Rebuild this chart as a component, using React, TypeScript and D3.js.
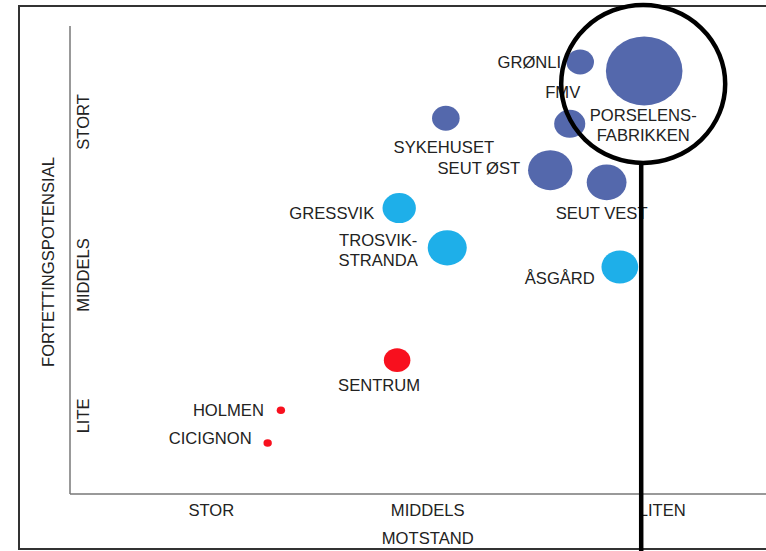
import * as d3 from "d3";

// motstand (x) and fortettingspotensial (y) on a 0-10 score, size = relative weight
const names = [
  "PORSELENS-|FABRIKKEN",
  "GRØNLI",
  "FMV",
  "SEUT ØST",
  "SEUT VEST",
  "SYKEHUSET",
  "GRESSVIK",
  "TROSVIK-|STRANDA",
  "ÅSGÅRD",
  "SENTRUM",
  "HOLMEN",
  "CICIGNON",
];
const motstand = [8.25, 7.33, 7.18, 6.9, 7.71, 5.4, 4.73, 5.42, 7.9, 4.7, 3.03, 2.84];
const potensial = [9.04, 9.23, 7.91, 6.92, 6.66, 8.03, 6.11, 5.26, 4.85, 2.86, 1.79, 1.09];
const size = [100, 13, 16.5, 33.6, 27, 13, 19, 26, 23, 12, 1.2, 1.2];
const group = ["stor", "stor", "stor", "stor", "stor", "stor", "middels", "middels", "middels", "lite", "lite", "lite"];

const xTickLabels = ["STOR", "MIDDELS", "LITEN"];
const xTickValues = [2.03, 5.14, 8.51];
const yTickLabels = ["STORT", "MIDDELS", "LITE"];
const yTickValues = [7.95, 4.68, 1.67];

const colors: Record<string, string> = {
  stor: "#5468ac",
  middels: "#1eafe9",
  lite: "#f8101e",
};

// label placement relative to the bubble centre
const labelPlace: Record<string, { dx: number; dy: number; anchor: string }> = {
  "PORSELENS-|FABRIKKEN": { dx: -1, dy: 44, anchor: "middle" },
  "GRØNLI": { dx: -19, dy: 0, anchor: "end" },
  "FMV": { dx: -7, dy: -32, anchor: "middle" },
  "SEUT ØST": { dx: -30, dy: -2, anchor: "end" },
  "SEUT VEST": { dx: -5, dy: 31, anchor: "middle" },
  "SYKEHUSET": { dx: -2, dy: 29, anchor: "middle" },
  "GRESSVIK": { dx: -25, dy: 5, anchor: "end" },
  "TROSVIK-|STRANDA": { dx: -69, dy: -8, anchor: "middle" },
  "ÅSGÅRD": { dx: -25, dy: 11, anchor: "end" },
  "SENTRUM": { dx: -18, dy: 25, anchor: "middle" },
  "HOLMEN": { dx: -17, dy: 0, anchor: "end" },
  "CICIGNON": { dx: -16, dy: -5, anchor: "end" },
};

const W = 766;
const H = 551;
const left = 70;
const bottom = 494;
const top = 26;
const font = "'Liberation Sans', Arial, Helvetica, sans-serif";
const fs = 16.6;
const textColor = "#222";

export default function App() {
  const x = d3.scaleLinear().domain([0, 10]).range([left, W]);
  const y = d3.scaleLinear().domain([0, 10]).range([bottom, top]);
  const r = d3.scaleSqrt().domain([0, 100]).range([0, 34.5]);

  const pts = names.map((n, i) => ({
    name: n,
    cx: x(motstand[i]),
    cy: y(potensial[i]),
    ry: Math.max(r(size[i]), 3.5),
    rx: Math.max(r(size[i]) * 1.11, 3.5),
    color: colors[group[i]],
  }));

  const focus = pts[0];
  const lensX = focus.cx - 1;
  const lensY = focus.cy + 13;

  return (
    <svg
      width={W}
      height={H}
      style={{ position: "absolute", left: 0, top: 0, display: "block", background: "#fff" }}
    >
      <rect x={19} y={6} width={W + 20} height={543} fill="#fff" stroke="#333" strokeWidth={2} />

      {/* axes */}
      <line x1={left} x2={left} y1={top} y2={bottom} stroke="#777" strokeWidth={1.5} />
      <line x1={left} x2={W} y1={bottom} y2={bottom} stroke="#777" strokeWidth={1.5} />

      {xTickValues.map((v, i) => (
        <text
          key={xTickLabels[i]}
          x={x(v)}
          y={510}
          dy="0.36em"
          textAnchor="middle"
          fontFamily={font}
          fontSize={fs}
          fill={textColor}
        >
          {xTickLabels[i]}
        </text>
      ))}
      <text x={x(5.14)} y={538} dy="0.36em" textAnchor="middle" fontFamily={font} fontSize={fs} fill={textColor}>
        MOTSTAND
      </text>

      {yTickValues.map((v, i) => (
        <text
          key={yTickLabels[i]}
          transform={`translate(83,${y(v)}) rotate(-90)`}
          dy="0.36em"
          textAnchor="middle"
          fontFamily={font}
          fontSize={fs}
          fill={textColor}
        >
          {yTickLabels[i]}
        </text>
      ))}
      <text
        transform={`translate(48,262) rotate(-90)`}
        dy="0.36em"
        textAnchor="middle"
        fontFamily={font}
        fontSize={fs}
        fill={textColor}
      >
        FORTETTINGSPOTENSIAL
      </text>

      {pts.map((p) => (
        <ellipse key={p.name} cx={p.cx} cy={p.cy} rx={p.rx} ry={p.ry} fill={p.color} />
      ))}

      {pts.map((p) => {
        const pl = labelPlace[p.name];
        const lines = p.name.split("|");
        return (
          <text
            key={"l" + p.name}
            x={p.cx + pl.dx}
            y={p.cy + pl.dy}
            textAnchor={pl.anchor}
            fontFamily={font}
            fontSize={fs}
            fill={textColor}
          >
            {lines.map((t, j) => (
              <tspan key={t} x={p.cx + pl.dx} dy={j === 0 ? "0.36em" : 20}>
                {t}
              </tspan>
            ))}
          </text>
        );
      })}

      {/* magnifying glass around Porselensfabrikken */}
      <ellipse cx={lensX} cy={lensY} rx={82} ry={79} fill="none" stroke="#000" strokeWidth={4.5} />
      <line x1={lensX - 2} x2={lensX - 2} y1={lensY + 79} y2={H} stroke="#000" strokeWidth={4.5} />
    </svg>
  );
}
